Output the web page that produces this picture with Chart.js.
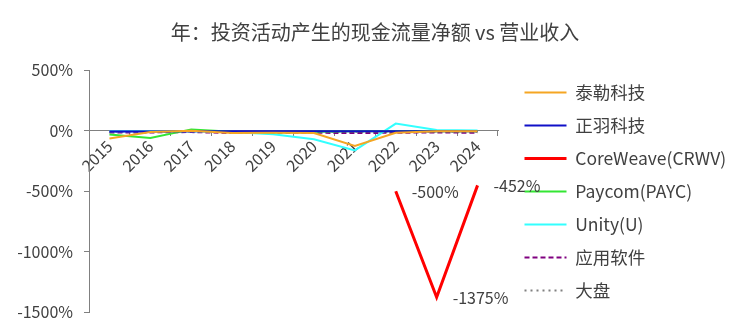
<!DOCTYPE html>
<html>
<head>
<meta charset="utf-8">
<script src="https://cdn.jsdelivr.net/npm/chart.js@4"></script>
<style>
  body { margin: 0; background: #fff; }
  #wrap { width: 750px; height: 333px; }
</style>
</head>
<body>
<div id="wrap"><canvas id="myChart"></canvas></div>
<script>
// data (percent)
var years = ['2015', '2016', '2017', '2018', '2019', '2020', '2021', '2022', '2023', '2024'];
var tyler = [-66, -12, -2, -20, -18, -20, -127, -18, -5, -5];
var zhengyu = [-8, -8, -6, -6, -6, -6, -6, -6, -6, -6];
var coreweave = [null, null, null, null, null, null, null, -500, -1375, -452];
var paycom = [-33, -60, 10, -10, -15, -10, -5, -5, -5, -5];
var unity = [-5, -5, -5, -12, -30, -72, -163, 58, 5, 0];
var appSoftware = [-15, -15, -12, -20, -18, -18, -20, -18, -15, -18];
var market = [-10, -10, -10, -10, -10, -10, -10, -10, -10, -10];
var yTicks = [500, 0, -500, -1000, -1500];

var font = '"Noto Sans CJK SC", "Noto Sans", sans-serif';
var textColor = '#404040';

// value labels right of the CoreWeave points
var pointLabels = {
  id: 'pointLabels',
  afterDatasetsDraw: function (chart) {
    var meta = chart.getDatasetMeta(2);
    var c = chart.ctx;
    c.save();
    c.font = '16px ' + font;
    c.fillStyle = textColor;
    c.textAlign = 'left';
    c.textBaseline = 'middle';
    meta.data.forEach(function (pt, i) {
      if (coreweave[i] === null) return;
      c.fillText(coreweave[i] + '%', pt.x + 16, pt.y + 1);
    });
    c.restore();
  }
};

// legend box: wider than the default cap, nudged right/down
var legendBox = {
  id: 'legendBox',
  beforeLayout: function (chart) {
    var lg = chart.legend;
    if (!lg || lg._patched) return;
    var fit = lg.fit;
    lg.fit = function () { fit.call(this); this.width = 252; };
    lg._patched = true;
  },
  afterLayout: function (chart) {
    var lg = chart.legend;
    lg.left += 11; lg.right += 11;
    lg.top += 35; lg.bottom += 35;
  }
};

function series(label, data, color, width, dash) {
  return {
    label: label,
    data: data,
    borderColor: color,
    backgroundColor: color,
    borderWidth: width,
    borderDash: dash || [],
    pointRadius: 0,
    pointStyle: 'line',
    fill: false,
    tension: 0
  };
}

const ctx = document.getElementById('myChart');

new Chart(ctx, {
  type: 'line',
  data: {
    labels: years,
    datasets: [
      series('泰勒科技', tyler, '#F5A623', 2),
      series('正羽科技', zhengyu, '#1010C8', 2),
      series('CoreWeave(CRWV)', coreweave, '#FF0000', 3),
      series('Paycom(PAYC)', paycom, '#33E633', 2),
      series('Unity(U)', unity, '#33FFFF', 2),
      series('应用软件', appSoftware, '#800080', 2, [5, 3]),
      series('大盘', market, '#808080', 2, [2, 4])
    ]
  },
  options: {
    responsive: true,
    maintainAspectRatio: false,
    animation: false,
    layout: { padding: { top: 0, bottom: 20, left: 0, right: 0 } },
    plugins: {
      title: {
        display: true,
        text: '年：投资活动产生的现金流量净额 vs 营业收入',
        color: textColor,
        font: { family: font, size: 20, weight: 'normal' },
        padding: { top: 20, bottom: 26 }
      },
      legend: {
        position: 'right',
        labels: {
          usePointStyle: true,
          pointStyleWidth: 42,
          color: textColor,
          font: { family: font, size: 17.5 },
          padding: 15.5,
          generateLabels: function (chart) {
            var items = Chart.defaults.plugins.legend.labels.generateLabels(chart);
            items.forEach(function (it, i) {
              var ds = chart.data.datasets[i];
              it.lineDash = ds.borderDash;
              it.lineWidth = ds.borderWidth;
              it.strokeStyle = ds.borderColor;
              it.pointStyle = 'line';
            });
            return items;
          }
        }
      },
      tooltip: { enabled: false }
    },
    scales: {
      x: {
        position: { y: 0 },
        offset: true,
        grid: { display: true, drawOnChartArea: false, offset: true, color: '#808080', tickLength: 5 },
        border: { color: '#808080' },
        ticks: {
          color: textColor,
          font: { family: font, size: 16 },
          minRotation: 45,
          maxRotation: 45,
          padding: 1
        }
      },
      y: {
        min: -1500,
        max: 500,
        afterFit: function (s) { s.width = 89; },
        afterBuildTicks: function (s) { s.ticks = yTicks.map(function (v) { return { value: v }; }); },
        grid: { display: true, drawOnChartArea: false, color: '#808080', tickLength: 5 },
        border: { color: '#808080' },
        ticks: {
          color: textColor,
          font: { family: font, size: 16 },
          padding: 11,
          callback: function (v) { return v + '%'; }
        }
      }
    }
  },
  plugins: [pointLabels, legendBox]
});
</script>
</body>
</html>
